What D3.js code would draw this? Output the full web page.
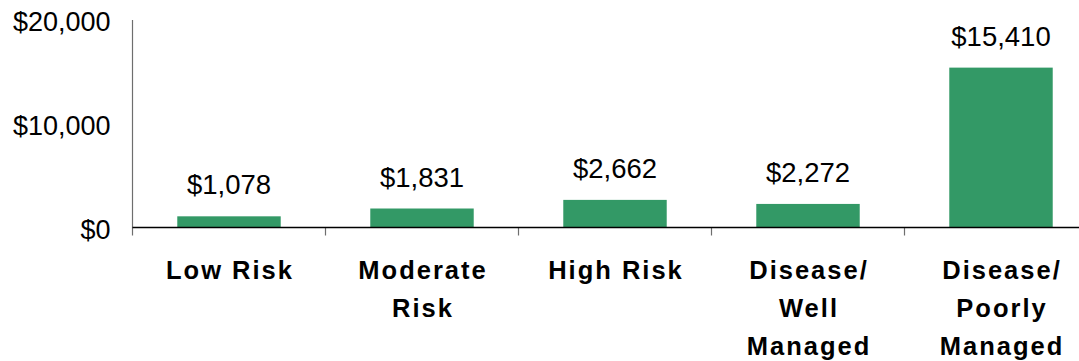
<!DOCTYPE html>
<html>
<head>
<meta charset="utf-8">
<script src="https://cdn.jsdelivr.net/npm/d3@7"></script>
<style>
  html, body { margin: 0; padding: 0; background: #fff; }
  svg { display: block; }
</style>
</head>
<body>
<svg id="chart" width="1079" height="361"></svg>
<script>
// Annual cost per member by risk group
const categories = ["Low Risk", "Moderate Risk", "High Risk", "Disease/ Well Managed", "Disease/ Poorly Managed"];
const categoryLines = [["Low Risk"], ["Moderate", "Risk"], ["High Risk"], ["Disease/", "Well", "Managed"], ["Disease/", "Poorly", "Managed"]];
const costs = [1078, 1831, 2662, 2272, 15410];
const yTicks = [0, 10000, 20000];

const svg = d3.select("#chart");
const plotLeft = 132.5, plotRight = 1097.5, plotTop = 20, plotBase = 227.5;

const x = d3.scaleBand().domain(categories).range([plotLeft, plotRight])
  .paddingInner(0.464).paddingOuter(0.232);
const y = d3.scaleLinear().domain([0, 20000]).range([plotBase, plotTop]);
const money = d3.format("$,");

// bars
svg.append("g").selectAll("rect").data(costs).join("rect")
  .attr("x", (d, i) => x(categories[i]))
  .attr("width", x.bandwidth())
  .attr("y", d => y(d))
  .attr("height", d => y(0) - y(d))
  .attr("fill", "#339966");

// value labels
svg.append("g").selectAll("text").data(costs).join("text")
  .attr("x", (d, i) => x(categories[i]) + x.bandwidth() / 2)
  .attr("y", d => y(d) - 22)
  .attr("text-anchor", "middle")
  .attr("font-family", "Liberation Sans, Arial, sans-serif")
  .attr("font-size", 27.5)
  .attr("fill", "#000")
  .text(d => money(d));

// y axis
const yAxis = d3.axisLeft(y).tickValues(yTicks).tickSize(0).tickPadding(22).tickFormat(money);
const gy = svg.append("g").attr("transform", `translate(${plotLeft},0)`).call(yAxis);
gy.select(".domain").remove();
gy.selectAll("text")
  .attr("font-family", "Liberation Sans, Arial, sans-serif")
  .attr("font-size", 27)
  .attr("fill", "#000")
  .attr("dy", "0.40em");
svg.append("line")
  .attr("x1", plotLeft).attr("x2", plotLeft)
  .attr("y1", plotTop).attr("y2", plotBase + 8)
  .attr("stroke", "#6e6e6e").attr("stroke-width", 1.2);

// x axis: category boundary ticks
const step = x.step();
const bounds = d3.range(categories.length).map(i => plotLeft + step * (i + 1));
svg.append("g").selectAll("line").data(bounds).join("line")
  .attr("x1", d => d).attr("x2", d => d)
  .attr("y1", plotBase).attr("y2", plotBase + 8)
  .attr("stroke", "#6e6e6e").attr("stroke-width", 1.2);
svg.append("line")
  .attr("x1", plotLeft).attr("x2", 1079)
  .attr("y1", plotBase).attr("y2", plotBase)
  .attr("stroke", "#000").attr("stroke-width", 1.3);

// category labels
const ls = 2;
const cat = svg.append("g").selectAll("text").data(categories).join("text")
  .attr("text-anchor", "middle")
  .attr("font-family", "Liberation Sans, Arial, sans-serif")
  .attr("font-weight", "bold")
  .attr("font-size", 25.5)
  .attr("letter-spacing", ls)
  .attr("fill", "#000");
cat.each(function (d, i) {
  const cx = x(d) + x.bandwidth() / 2 + ls / 2;
  d3.select(this).selectAll("tspan").data(categoryLines[i]).join("tspan")
    .attr("x", cx)
    .attr("y", (t, j) => 279 + j * 38)
    .text(t => t);
});
</script>
</body>
</html>
